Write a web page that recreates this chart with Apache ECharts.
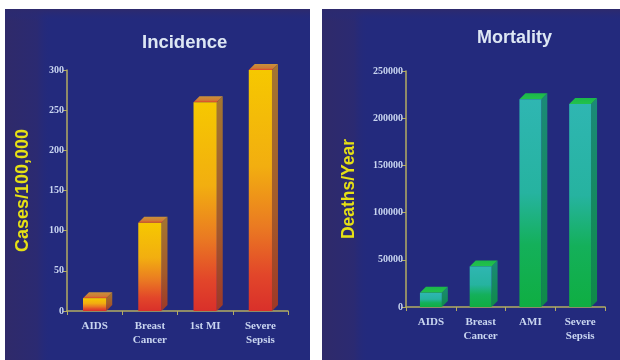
<!DOCTYPE html>
<html>
<head>
<meta charset="utf-8">
<script src="https://cdn.jsdelivr.net/npm/echarts@6/dist/echarts.min.js"></script>
<style>
  html, body { margin: 0; padding: 0; background: #ffffff; }
  #chart { width: 620px; height: 360px; }
</style>
</head>
<body>
<div id="chart"></div>
<script>
// Incidence panel
const incidenceCategories = ['AIDS', 'Breast\nCancer', '1st MI', 'Severe\nSepsis'];
const incidenceValues = [16, 110, 260, 300];
const incidenceTicks = { min: 0, max: 300, interval: 50 };

// Mortality panel
const mortalityCategories = ['AIDS', 'Breast\nCancer', 'AMI', 'Severe\nSepsis'];
const mortalityValues = [15000, 43000, 220000, 215000];
const mortalityTicks = { min: 0, max: 250000, interval: 50000 };

const G = echarts.graphic;
const axisColor = '#b4ad62';
const labelColor = '#c9d5f0';

// gradient helper: stops given as [offset, colour] pairs
function grad(x2, y2, stops) {
  return new G.LinearGradient(0, 0, x2, y2, stops.map(s => ({ offset: s[0], color: s[1] })));
}

const warmStyle = {
  front: [[0, '#f6c800'], [0.4, '#f2ae10'], [0.65, '#ea7a22'], [0.85, '#e2462a'], [1, '#d9302a']],
  side: [[0, '#a47630'], [0.6, '#a45a2a'], [1, '#9e3828']],
  top: [[0, '#c9923a'], [0.7, '#cf7a34'], [1, '#e0422a']]
};
const coolStyle = {
  front: [[0, '#2fb6b2'], [0.45, '#26b3a0'], [0.7, '#14b05a'], [1, '#0fae42']],
  side: [[0, '#1b8a78'], [1, '#0f8a48']],
  top: [[0, '#1bb84a'], [1, '#22c24c']]
};

function bar3d(style, ratio) {
  return function (params, api) {
    const cat = api.value(0);
    const val = api.value(1);
    const top = api.coord([cat, val]);
    const base = api.coord([cat, 0]);
    const band = api.size([1, 0])[0];
    const w = band * ratio;
    const d = 6;
    const x0 = top[0] - w / 2, x1 = top[0] + w / 2;
    const y0 = top[1], y1 = base[1];
    return {
      type: 'group',
      children: [
        {
          type: 'polygon',
          shape: { points: [[x1, y0], [x1 + d, y0 - d], [x1 + d, y1 - d], [x1, y1]] },
          style: { fill: grad(0, 1, style.side) }
        },
        {
          type: 'polygon',
          shape: { points: [[x0, y0], [x0 + d, y0 - d], [x1 + d, y0 - d], [x1, y0]] },
          style: { fill: grad(0, 1, style.top) }
        },
        {
          type: 'rect',
          shape: { x: x0, y: y0, width: w, height: y1 - y0 },
          style: { fill: grad(0, 1, style.front) }
        }
      ]
    };
  };
}

function panel(x, width) {
  return [
    { type: 'rect', z: -10, shape: { x: x, y: 9, width: width, height: 360 },
      style: { fill: '#232a7d' } },
    { type: 'rect', z: -9, shape: { x: x, y: 9, width: 46, height: 360 },
      style: { fill: grad(1, 0, [[0, '#2f2a6a'], [0.7, '#2b2a72'], [1, 'rgba(35,42,125,0)']]) } },
    { type: 'rect', z: -9, shape: { x: x, y: 9, width: width, height: 12 },
      style: { fill: grad(0, 1, [[0, '#2e2a6c'], [1, 'rgba(35,42,125,0)']]) } }
  ];
}

function xAxisFor(index, cats) {
  return {
    type: 'category', gridIndex: index, data: cats,
    axisLine: { lineStyle: { color: axisColor, width: 1.5 } },
    axisTick: { show: true, length: 4, interval: 0, lineStyle: { color: axisColor } },
    axisLabel: {
      interval: 0, margin: 8, color: labelColor, lineHeight: 14,
      fontFamily: 'Liberation Serif', fontWeight: 'bold', fontSize: 11
    }
  };
}

function yAxisFor(index, ticks, name, gap, nameSize) {
  return {
    type: 'value', gridIndex: index, min: ticks.min, max: ticks.max, interval: ticks.interval,
    name: name, nameLocation: 'middle', nameRotate: 90, nameGap: gap,
    nameTextStyle: { color: '#e6e014', fontFamily: 'Liberation Sans', fontWeight: 'bold', fontSize: nameSize },
    splitLine: { show: false },
    axisLine: { show: true, lineStyle: { color: axisColor, width: 1.5 } },
    axisTick: { show: true, length: 4, lineStyle: { color: axisColor } },
    axisLabel: {
      margin: 3, color: labelColor, formatter: v => String(v),
      fontFamily: 'Liberation Serif', fontWeight: 'bold', fontSize: 10
    }
  };
}

const chart = echarts.init(document.getElementById('chart'), null, { renderer: 'canvas' });
chart.setOption({
  backgroundColor: '#ffffff',
  animation: false,
  graphic: [].concat(panel(5, 305), panel(322, 298)),
  title: [
    { text: 'Incidence', left: 142, top: 33, padding: 0,
      textStyle: { color: '#dde7f4', fontFamily: 'Liberation Sans', fontWeight: 'bold', fontSize: 18.5 } },
    { text: 'Mortality', left: 477, top: 29, padding: 0,
      textStyle: { color: '#dde7f4', fontFamily: 'Liberation Sans', fontWeight: 'bold', fontSize: 18 } }
  ],
  grid: [
    { left: 67, right: 332, top: 70, bottom: 49 },
    { left: 406, right: 15, top: 71, bottom: 53 }
  ],
  xAxis: [xAxisFor(0, incidenceCategories), xAxisFor(1, mortalityCategories)],
  yAxis: [
    yAxisFor(0, incidenceTicks, 'Cases/100,000', 35, 18),
    yAxisFor(1, mortalityTicks, 'Deaths/Year', 48, 17.5)
  ],
  series: [
    {
      type: 'custom', xAxisIndex: 0, yAxisIndex: 0,
      renderItem: bar3d(warmStyle, 0.42),
      encode: { x: 0, y: 1 },
      data: incidenceValues.map((v, i) => [i, v])
    },
    {
      type: 'custom', xAxisIndex: 1, yAxisIndex: 1,
      renderItem: bar3d(coolStyle, 0.44),
      encode: { x: 0, y: 1 },
      data: mortalityValues.map((v, i) => [i, v])
    }
  ]
});
</script>
</body>
</html>
